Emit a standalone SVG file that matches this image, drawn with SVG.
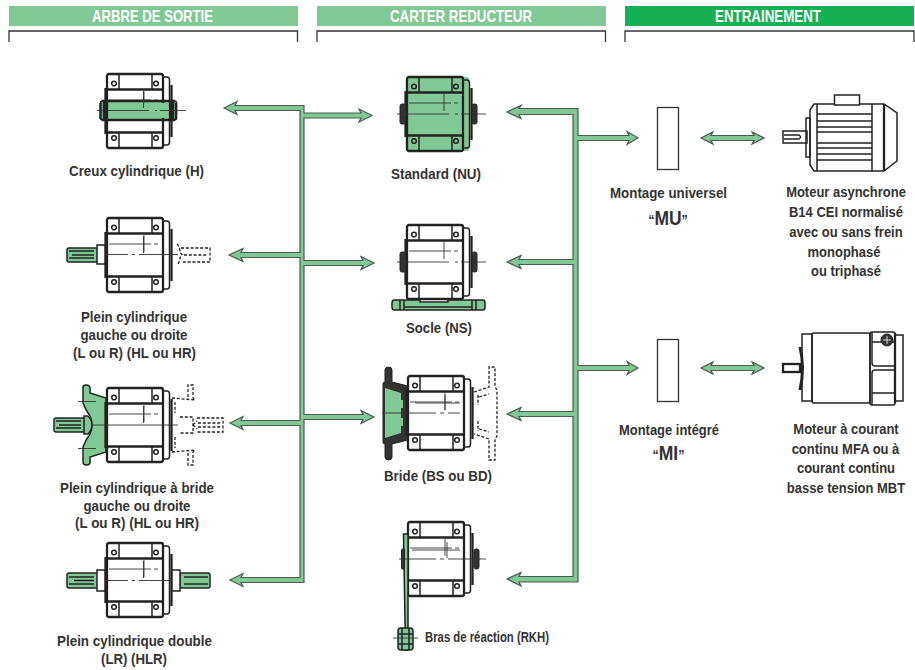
<svg xmlns="http://www.w3.org/2000/svg" width="915" height="670" viewBox="0 0 915 670">
<style>
text{font-family:"Liberation Sans",Arial,sans-serif;font-weight:bold;font-size:14.8px;fill:#333;text-anchor:middle}
.h{fill:#fff;font-size:16.500px}
.m{font-size:13px}
.q{font-size:12.500px}
.big{font-size:17.500px}
.bk{fill:none;stroke:#333;stroke-width:1.3}
.ln{fill:none;stroke:#222;stroke-width:1.5}
.th{fill:none;stroke:#222;stroke-width:2.3}
.fn{fill:none;stroke:#333;stroke-width:.9}
.ds{fill:none;stroke:#222;stroke-width:1.3;stroke-dasharray:3 1.800}
.gr{fill:#80c995;stroke:#222;stroke-width:1.5}
.dk{fill:#333;stroke:#222;stroke-width:1}
.ar{fill:#80c995;stroke:#4a5a50;stroke-width:1.2;stroke-linejoin:miter}
.wt{fill:#fff;stroke:#222;stroke-width:1.5}
</style>
<defs>
<g id="unit">
<rect class="th" x="0" y="0" width="56" height="74" rx="2"/>
<path class="th" d="M0 15.500H56M0 58.500H56"/>
<path class="th" d="M-1.500 14V60"/>
<path class="ln" d="M12 0V15M45 0V15M12 59V74M45 59V74"/>
<circle cx="7" cy="9.500" r="2.300" class="ln"/><circle cx="49" cy="9.500" r="2.300" class="ln"/><circle cx="7" cy="64" r="2.300" class="ln"/><circle cx="49" cy="64" r="2.300" class="ln"/>
<path class="ln" d="M56 3H60Q62.500 3 62.500 6V68Q62.500 71 60 71H56M56 4V15M56 59V70"/>
<path class="th" d="M64.500 11V63"/>
<path class="fn" d="M2 26H44M47 26H51M37 17V34"/>
</g>
</defs>

<g id="headers">
<rect x="9" y="6" width="289" height="20" fill="#80c995"/>
<text class="h" x="152.500" y="22" textLength="121" lengthAdjust="spacingAndGlyphs">ARBRE DE SORTIE</text>
<path class="bk" d="M9 42V31H297.500V42"/>
<rect x="317" y="6" width="289" height="20" fill="#80c995"/>
<text class="h" x="461" y="22" textLength="142" lengthAdjust="spacingAndGlyphs">CARTER REDUCTEUR</text>
<path class="bk" d="M317 42V31H605.500V42"/>
<rect x="625" y="6" width="289" height="20" fill="#16b055"/>
<text class="h" x="768" y="22" textLength="106" lengthAdjust="spacingAndGlyphs">ENTRAINEMENT</text>
<path class="bk" d="M625 42V31H914V42"/>
</g>

<g id="connectors">
<path class="ar" d="M224 108L237 101.500L235 105.500H304V113H361L359 109L372 115.500L359 122L361 118H304V260.500H363L361 256.500L374 263L361 269.500L363 265.500H304V414.500H363L361 410.500L374 417L361 423.500L363 419.500H304V582.500H241L243 586.500L230 580L243 573.500L241 577.500H300V425.500H241L243 429.500L230 423L243 416.500L241 420.500H300V257.500H241L243 261.500L229 255L243 248.500L241 252.500H300V110.500H235L237 114.500Z"/>
<path class="ar" d="M507 112L521 105.500L519 108.500H578V135.500H629L627 131.500L638 138L627 144.500L629 140.500H578V365.500H629L627 361.500L638 368L627 374.500L629 370.500H578V582H519L521 586L507 579L521 572.500L519 576.500H573V416.500H519L521 420.500L507 414L521 407.500L519 411.500H573V264.500H519L521 268.500L507 262L521 255.500L519 259.500H573V114.500H519L521 118.500Z"/>
<path class="ar" d="M701 138L713 132L711 135.500H754L752 132L764 138L752 144L754 140.500H711L713 144Z"/>
<path class="ar" d="M701 368L713 362L711 365.500H754L752 362L764 368L752 374L754 370.500H711L713 374Z"/>
</g>

<g id="arbre-h">
<rect class="gr" x="100.500" y="101" width="76" height="19" rx="2" stroke-width="2"/>
<use href="#unit" x="107" y="74"/>
<rect fill="#80c995" x="107" y="103" width="63" height="15"/>
<path class="th" d="M100.500 103V119M176 103V119M102 101H175M102 120H175M104 100V121M107 100V121M170 100V121M173 100V121"/>
<path class="fn" d="M97 110.500H149M155 110.500H157M160 110.500H186M143.500 91V108"/>
<text x="136.500" y="176" textLength="135" lengthAdjust="spacingAndGlyphs">Creux cylindrique (H)</text>
</g>

<g id="arbre-l">
<use href="#unit" x="107" y="218"/>
<rect class="gr" x="67" y="248" width="31" height="14" rx="2" stroke-width="2"/>
<path class="ln" d="M69 251H94M69 258H94M72 255H94"/>
<path class="wt" d="M97 245H105V264H97Z"/>
<path class="fn" d="M105 254.500H128M132 254.500H135M139 254.500H178M143.500 236V253"/>
<path class="ds" d="M177 244C181 248 179 253 182 254.500C179 256 181 261 177 265M181 248H210V262H181M184 255H208"/>
<text x="134" y="322" textLength="106" lengthAdjust="spacingAndGlyphs">Plein cylindrique</text>
<text x="134" y="339.500" textLength="107" lengthAdjust="spacingAndGlyphs">gauche ou droite</text>
<text x="134.500" y="358" textLength="123" lengthAdjust="spacingAndGlyphs">(L ou R) (HL ou HR)</text>
</g>

<g id="arbre-bride">
<path class="gr" d="M83 387Q83 385 86 385Q90 385 90 388V393L106 398V452L90 457V462Q90 465 86.500 465Q83 465 83 462V447Q85 441 90 434Q92 430 92 425Q92 420 90 416Q85 409 83 403Z"/>
<use href="#unit" x="107" y="388"/>
<rect class="gr" x="54" y="418" width="31" height="14" rx="2" stroke-width="2"/>
<path class="ln" d="M56 421H81M56 428H81M59 425H81"/>
<path class="gr" d="M84 416H88Q92 420 92 425Q92 430 88 434H84Z"/>
<path class="fn" d="M92 425H178M143.500 406V423M78 401.500H96M78 448.500H96"/>
<path class="ds" d="M172 398L195 400L193 398V385H188V398M172 452L195 450L193 452V465H188V452M175 402V413M175 437V448M180 417H193V433H180M193 425L197 421M193 425L197 429M197 418H223V432H197M198 423H221M198 427H221"/>
<text x="137" y="493" textLength="154" lengthAdjust="spacingAndGlyphs">Plein cylindrique à bride</text>
<text x="137" y="511" textLength="107" lengthAdjust="spacingAndGlyphs">gauche ou droite</text>
<text x="137" y="528" textLength="124" lengthAdjust="spacingAndGlyphs">(L ou R) (HL ou HR)</text>
</g>

<g id="arbre-double">
<use href="#unit" x="107" y="543"/>
<rect class="gr" x="67" y="573" width="31" height="15" rx="2" stroke-width="2"/>
<path class="ln" d="M69 577H94M69 584H94M74 580.500H94"/>
<rect class="gr" x="180" y="573" width="30" height="15" rx="2" stroke-width="2"/>
<path class="ln" d="M184 577H208M184 584H208"/>
<path class="wt" d="M97 570H105V591H97Z"/>
<path class="wt" d="M172 570H180V591H172Z"/>
<path class="fn" d="M105 580.500H128M132 580.500H135M139 580.500H172M143.500 561V578"/>
<text x="134.500" y="646" textLength="155" lengthAdjust="spacingAndGlyphs">Plein cylindrique double</text>
<text x="134" y="664" textLength="66" lengthAdjust="spacingAndGlyphs">(LR) (HLR)</text>
</g>

<g id="carter-nu">
<rect fill="#80c995" x="407" y="77" width="62" height="74" rx="2"/>
<use href="#unit" x="407" y="77"/>
<rect class="dk" x="400" y="104" width="6" height="20" rx="2"/>
<rect class="dk" x="472" y="104" width="5" height="20" rx="2"/>
<path class="fn" d="M397 114H449M455 114H458M461 114H486"/>
<text x="436" y="179" textLength="90" lengthAdjust="spacingAndGlyphs">Standard (NU)</text>
</g>

<g id="carter-ns">
<use href="#unit" x="407" y="225"/>
<rect class="dk" x="400" y="252" width="6" height="20" rx="2"/>
<rect class="dk" x="472" y="252" width="5" height="20" rx="2"/>
<path class="fn" d="M397 262H449M455 262H458M461 262H486"/>
<path class="gr" d="M394 300H420V302H448V300H483Q485 300 485 303V307Q485 310 483 310H394Q392 310 392 307V303Q392 300 394 300Z"/>
<path class="ln" d="M400 300V310M404 300V310M476 300V310M472 300V310M404 307H472"/>
<text x="439" y="333" textLength="66" lengthAdjust="spacingAndGlyphs">Socle (NS)</text>
</g>

<g id="carter-bride">
<path class="dk" d="M385 370Q385 367 388.500 367Q392 367 392 370V382L408 386V440L392 444V457Q392 460 388.500 460Q385 460 385 457V444L383 443V383L385 382Z"/>
<path fill="#80c995" d="M385 388L401 393V400H403V408H401V418H403V426H401V433L385 438Z"/>
<use href="#unit" x="408" y="376"/>
<path class="fn" d="M382 413H436M440 413H444M448 413H460M415 403H460M445 395V410"/>
<path class="ds" d="M474 392L489 387V367H495V387L497 390V436L495 439V460H489V439L474 434M478 395V405M478 421V431M479 397L489 394M479 429L489 432"/>
<text x="438" y="481" textLength="108" lengthAdjust="spacingAndGlyphs">Bride (BS ou BD)</text>
</g>

<g id="carter-rkh">
<use href="#unit" x="408" y="522"/>
<path class="gr" d="M403.500 534H408V650H405.500Z"/>
<rect class="dk" x="401.500" y="549" width="3" height="20" rx="1"/>
<rect class="dk" x="474" y="549" width="5" height="20" rx="2"/>
<path class="fn" d="M399 559H436M440 559H444M448 559H486M412 550H460M447 542V558"/>
<rect class="gr" x="398" y="628" width="15" height="22" rx="3"/>
<path class="ln" d="M402 628V650M409 628V650M398 634H413M398 644H413"/>
<path class="fn" d="M393 638H418"/>
<text x="487" y="642" textLength="124" lengthAdjust="spacingAndGlyphs">Bras de réaction (RKH)</text>
</g>

<g id="montage-mu">
<rect class="bk" x="657.500" y="107.500" width="21" height="62" stroke-width="1.500"/>
<text x="668.500" y="198" textLength="117" lengthAdjust="spacingAndGlyphs">Montage universel</text>
<text transform="translate(668 225) scale(1 1.150)"><tspan class="q">“</tspan><tspan class="big">MU</tspan><tspan class="q">”</tspan></text>
</g>

<g id="montage-mi">
<rect class="bk" x="657.500" y="339.500" width="21" height="62" stroke-width="1.500"/>
<text x="669" y="435" textLength="100" lengthAdjust="spacingAndGlyphs">Montage intégré</text>
<text transform="translate(668.500 460) scale(1 1.150)"><tspan class="q">“</tspan><tspan class="big">MI</tspan><tspan class="q">”</tspan></text>
</g>

<g id="moteur-asynchrone">
<rect class="ln" x="783" y="131" width="24" height="12"/>
<path class="ln" d="M784 135H799Q802 137 799 139H784"/>
<rect class="ln" x="806" y="118" width="4" height="39"/>
<path class="ln" d="M810 110L814 104H884L897 113V161L884 171H814L810 165Z"/>
<rect class="wt" x="834.500" y="95" width="25" height="10"/>
<path class="ln" d="M817 104V171M872 104V171"/>
<path class="th" d="M884 104V171"/>
<path class="ln" d="M817 114H872M817 121H872M817 127H872M817 132H872M817 143H872M817 148H872M817 154H872M817 160H872"/>
<text class="m" transform="translate(846 197) scale(1 1.140)">Moteur asynchrone</text>
<text class="m" transform="translate(846 217) scale(1 1.140)">B14 CEI normalisé</text>
<text class="m" transform="translate(846 237) scale(1 1.140)">avec ou sans frein</text>
<text class="m" transform="translate(844 257) scale(1 1.140)">monophasé</text>
<text class="m" transform="translate(846 276) scale(1 1.140)">ou triphasé</text>
</g>

<g id="moteur-cc">
<rect class="th" x="783" y="364" width="17" height="8"/>
<path d="M800 347Q805 368 800 390" fill="none" stroke="#222" stroke-width="3"/>
<rect class="ln" x="802" y="334" width="10" height="67"/>
<rect class="ln" x="812" y="333" width="58" height="70" rx="2"/>
<rect class="ln" x="870" y="332" width="25" height="73" rx="2"/>
<rect class="ln" x="895" y="335" width="8" height="66"/>
<path class="ln" d="M872 342H895M872 363Q872 366 875 366H895M875 370H895M875 370Q872 370 872 373V405M872 332V363M872 393H895"/>
<path class="th" d="M895 333V403"/>
<circle cx="887" cy="340" r="6" fill="#333" stroke="#222"/>
<path d="M883 340H891M887 336V344" stroke="#fff" stroke-width=".8"/>
<text class="m" transform="translate(846 434) scale(1 1.140)">Moteur à courant</text>
<text class="m" transform="translate(845.500 454) scale(1 1.140)">continu MFA ou à</text>
<text class="m" transform="translate(846 473) scale(1 1.140)">courant continu</text>
<text class="m" transform="translate(846 493) scale(1 1.140)">basse tension MBT</text>
</g>
</svg>
